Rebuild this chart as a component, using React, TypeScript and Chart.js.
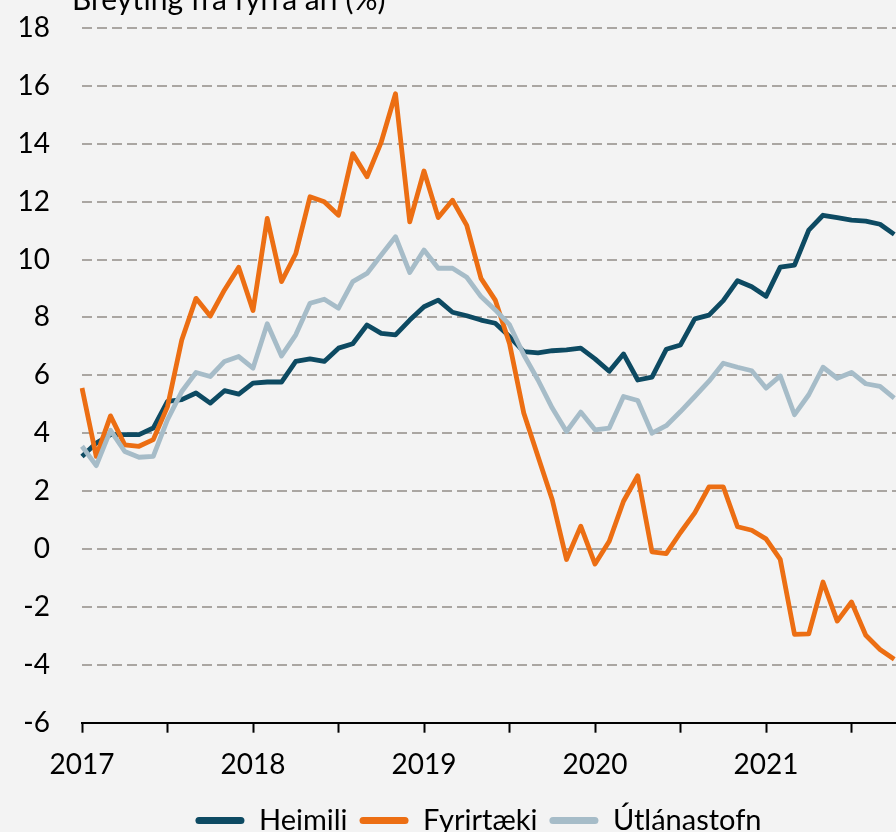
import React, { useEffect, useRef } from 'react';
import { Chart, registerables } from 'chart.js';

Chart.register(...registerables);

const TITLE = 'Breyting frá fyrra ári (%)';
const YEARS = ['2017', '2018', '2019', '2020', '2021'];
const MONTHS = ['01', '02', '03', '04', '05', '06', '07', '08', '09', '10', '11', '12'];
const CATEGORIES: string[] = [...YEARS.flatMap((y) => MONTHS.map((m) => `${y}-${m}`)), '2022-01'];

const SERIES_NAMES = ['Heimili', 'Fyrirtæki', 'Útlánastofn'];
const SERIES_COLORS = ['#0d4a62', '#ec6e13', '#a6bcc8'];

const heimili = [
  3.2, 3.66, 3.95, 3.95, 3.95, 4.18, 5.1, 5.16, 5.39, 5.04, 5.47, 5.35,
  5.73, 5.77, 5.77, 6.48, 6.57, 6.48, 6.94, 7.09, 7.74, 7.45, 7.4, 7.91,
  8.37, 8.6, 8.18, 8.06, 7.91, 7.8, 7.34, 6.82, 6.78, 6.85, 6.88, 6.94,
  6.57, 6.14, 6.74, 5.84, 5.94, 6.9, 7.05, 7.95, 8.08, 8.58, 9.27, 9.06,
  8.73, 9.74, 9.81, 11.02, 11.53, 11.45, 11.36, 11.33, 11.22, 10.87,
];

const fyrirtaeki = [
  5.56, 3.2, 4.6, 3.6, 3.55, 3.78, 4.92, 7.22, 8.66, 8.05, 8.95, 9.73,
  8.24, 11.42, 9.24, 10.2, 12.17, 12.0, 11.53, 13.66, 12.86, 14.06, 15.73, 11.3,
  13.06, 11.45, 12.05, 11.18, 9.35, 8.6, 7.1, 4.7, 3.2, 1.7, -0.36, 0.79,
  -0.52, 0.27, 1.65, 2.53, -0.1, -0.16, 0.57, 1.25, 2.15, 2.15, 0.77, 0.65,
  0.35, -0.36, -2.95, -2.93, -1.14, -2.49, -1.83, -2.98, -3.47, -3.81,
];

const utlanastofn = [
  3.55, 2.88, 4.1, 3.37, 3.17, 3.2, 4.47, 5.44, 6.1, 5.96, 6.48, 6.65,
  6.25, 7.78, 6.67, 7.4, 8.49, 8.63, 8.32, 9.24, 9.52, 10.16, 10.79, 9.55,
  10.33, 9.7, 9.7, 9.39, 8.72, 8.26, 7.75, 6.71, 5.84, 4.87, 4.06, 4.73,
  4.12, 4.18, 5.27, 5.13, 4.0, 4.26, 4.75, 5.27, 5.8, 6.42, 6.28, 6.16,
  5.56, 5.98, 4.64, 5.33, 6.28, 5.9, 6.1, 5.71, 5.62, 5.21,
];

const Y_MIN = -6;
const Y_MAX = 18;
const Y_STEP = 2;

const FONT_FAMILY = 'Lato, "Open Sans", sans-serif';
const TICK_FONT_SIZE = 28;
const LEGEND_FONT_SIZE = 29;
const TITLE_FONT_SIZE = 30;

const cornerTitle = {
  id: 'cornerTitle',
  afterDraw(chart: any) {
    const { ctx, chartArea } = chart;
    ctx.save();
    ctx.font = `${TITLE_FONT_SIZE}px ${FONT_FAMILY}`;
    ctx.fillStyle = '#000';
    ctx.textAlign = 'left';
    ctx.textBaseline = 'alphabetic';
    ctx.fillText(TITLE, chartArea.left - 10, chartArea.top - 18);
    ctx.restore();
  },
};

export default function App() {
  const canvasRef = useRef<HTMLCanvasElement | null>(null);

  useEffect(() => {
    const canvas = canvasRef.current;
    if (!canvas) return;
    const values = [heimili, fyrirtaeki, utlanastofn];
    const chart = new Chart(canvas, {
      type: 'line',
      data: {
        labels: CATEGORIES,
        datasets: SERIES_NAMES.map((name, i) => ({
          label: name,
          data: values[i],
          borderColor: SERIES_COLORS[i],
          backgroundColor: SERIES_COLORS[i],
          borderWidth: 4.8,
          pointRadius: 0,
          pointHoverRadius: 0,
          tension: 0,
          fill: false,
          borderJoinStyle: 'round',
          borderCapStyle: 'butt',
          order: 3 - i,
        })),
      },
      options: {
        animation: false,
        responsive: false,
        devicePixelRatio: 1,
        layout: { padding: { left: 20, right: 23, top: 68, bottom: 15 } },
        scales: {
          x: {
            type: 'category',
            offset: false,
            afterFit: (scale: any) => {
              scale.height = 71.3;
            },
            grid: {
              drawOnChartArea: false,
              drawTicks: true,
              tickLength: 10,
              tickWidth: 2,
              tickColor: (c: any) => (c.index % 6 === 0 ? '#000' : 'rgba(0,0,0,0)'),
              color: 'rgba(0,0,0,0)',
            },
            border: { display: true, color: '#000', width: 2 },
            ticks: {
              autoSkip: false,
              maxRotation: 0,
              minRotation: 0,
              padding: 15.5,
              color: '#000',
              font: { family: FONT_FAMILY, size: TICK_FONT_SIZE },
              callback: function (this: any, _v: any, index: number) {
                if (index % 12 !== 0) return '';
                const year = String(CATEGORIES[index]).slice(0, 4);
                return YEARS.includes(year) ? year : '';
              },
            },
          },
          y: {
            min: Y_MIN,
            max: Y_MAX,
            afterFit: (scale: any) => {
              scale.width = 62;
            },
            grid: {
              drawTicks: false,
              lineWidth: 2,
              color: (c: any) => (c.tick && c.tick.value === Y_MIN ? 'rgba(0,0,0,0)' : '#aaa6a2'),
            },
            border: { display: false, dash: [10, 5] },
            ticks: {
              stepSize: Y_STEP,
              padding: 32,
              color: '#000',
              font: { family: FONT_FAMILY, size: TICK_FONT_SIZE },
            },
          },
        },
        plugins: {
          tooltip: { enabled: false },
          title: { display: false },
          legend: {
            display: true,
            position: 'bottom',
            labels: {
              boxWidth: 49,
              boxHeight: 7,
              useBorderRadius: true,
              borderRadius: 3.5,
              padding: 12,
              color: '#000',
              font: { family: FONT_FAMILY, size: LEGEND_FONT_SIZE },
              sort: (a: any, b: any) => a.datasetIndex - b.datasetIndex,
              generateLabels: (ch: any) =>
                (Chart.defaults.plugins.legend.labels.generateLabels as any)(ch).map((l: any) => ({
                  ...l,
                  lineWidth: 0,
                  fillStyle: l.strokeStyle,
                })),
            },
          },
        },
      },
      plugins: [cornerTitle],
    } as any);
    return () => chart.destroy();
  }, []);

  return (
    <div
      style={{
        position: 'fixed',
        left: 0,
        top: 0,
        width: 896,
        height: 832,
        overflow: 'hidden',
        background: '#f3f3f3',
      }}
    >
      <div style={{ position: 'absolute', left: 0, top: -40, width: 960, height: 900 }}>
        <canvas ref={canvasRef} width={960} height={900} style={{ display: 'block' }} />
      </div>
    </div>
  );
}
